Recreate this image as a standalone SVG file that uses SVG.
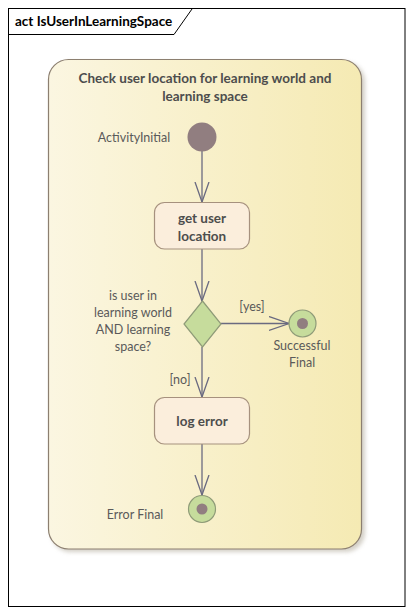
<svg xmlns="http://www.w3.org/2000/svg" width="413" height="615" viewBox="0 0 413 615">
<defs>
<linearGradient id="bg" x1="0" y1="0" x2="1" y2="0">
<stop offset="0" stop-color="#FBF6E1"/>
<stop offset="1" stop-color="#F5EAB3"/>
</linearGradient>
<marker id="arr" markerWidth="22" markerHeight="16" refX="20" refY="8" orient="auto" markerUnits="userSpaceOnUse" viewBox="0 0 22 16">
<path d="M0,1 L20,8 L0,15" fill="none" stroke="#6A6A80" stroke-width="1.3"/>
</marker>
<filter id="sh" x="-10%" y="-10%" width="130%" height="130%">
<feGaussianBlur stdDeviation="2"/>
</filter>
</defs>
<style>
text{font-family:"Lato","Liberation Sans",sans-serif;fill:#5A5A5A}
.lbl{font-size:12.5px}
.bold{font-weight:bold;font-size:13.5px;fill:#4D4D4D}
.act{fill:#FBEEDC;stroke:#A6917E;stroke-width:1.2}
.edge{fill:none;stroke:#6A6A80;stroke-width:1.3}
.fin{fill:#C6DC9C;stroke:#8F9B78;stroke-width:1.2}
.dot{fill:#917E80}
</style>
<rect x="0" y="0" width="413" height="615" fill="#FFFFFF"/>
<g id="frame">
<rect x="8.5" y="8.5" width="396.5" height="598" fill="#FFFFFF" stroke="#000000" stroke-width="1"/>
<path d="M8.5,34.5 L174,34.5 L192,9" fill="none" stroke="#000000" stroke-width="1"/>
<text x="15" y="26" style="font-size:13.5px;fill:#000000;font-weight:bold">act IsUserInLearningSpace</text>
</g>
<g id="container">
<rect x="51" y="62" width="314" height="490" rx="20" fill="#C8C3B8" filter="url(#sh)" opacity="0.8"/>
<rect x="48.5" y="59.5" width="313" height="489.5" rx="20" fill="url(#bg)" stroke="#8C7F70" stroke-width="1.2"/>
<text x="205" y="83" text-anchor="middle" class="bold">Check user location for learning world and</text>
<text x="205" y="101" text-anchor="middle" class="bold">learning space</text>
</g>
<g id="connectors">
<path class="edge" d="M202,151 L202,202" marker-end="url(#arr)"/>
<path class="edge" d="M202,249 L202,301" marker-end="url(#arr)"/>
<path class="edge" d="M221,323.5 L289,323.5" marker-end="url(#arr)"/>
<path class="edge" d="M202,347 L202,397" marker-end="url(#arr)"/>
<path class="edge" d="M202,444 L202,495" marker-end="url(#arr)"/>
<text x="252" y="311" text-anchor="middle" class="lbl">[yes]</text>
<text x="180" y="384" text-anchor="middle" class="lbl">[no]</text>
</g>
<g id="initial">
<circle cx="202" cy="137" r="14.5" class="dot"/>
<text x="134" y="142" text-anchor="middle" class="lbl">ActivityInitial</text>
</g>
<g id="getUserLocation">
<rect x="154.5" y="202.5" width="95" height="46.5" rx="10" class="act"/>
<text x="202" y="223" text-anchor="middle" class="bold">get user</text>
<text x="202" y="241" text-anchor="middle" class="bold">location</text>
</g>
<g id="decision">
<path d="M202.5,301 L221,324 L202.5,347 L184,324 Z" fill="#C6DC9C" stroke="#8F9B78" stroke-width="1.2"/>
<text x="133" y="300" text-anchor="middle" class="lbl">is user in</text>
<text x="133" y="317" text-anchor="middle" class="lbl">learning world</text>
<text x="133" y="334" text-anchor="middle" class="lbl">AND learning</text>
<text x="133" y="351" text-anchor="middle" class="lbl">space?</text>
</g>
<g id="successFinal">
<circle cx="302.5" cy="323.5" r="13.5" class="fin"/>
<circle cx="302.5" cy="323.5" r="5.5" class="dot"/>
<text x="302" y="350" text-anchor="middle" class="lbl">Successful</text>
<text x="302" y="367" text-anchor="middle" class="lbl">Final</text>
</g>
<g id="logError">
<rect x="154.5" y="397.5" width="95" height="46.5" rx="10" class="act"/>
<text x="202" y="426" text-anchor="middle" class="bold">log error</text>
</g>
<g id="errorFinal">
<circle cx="202" cy="509" r="13.5" class="fin"/>
<circle cx="202" cy="509" r="5.5" class="dot"/>
<text x="135" y="519" text-anchor="middle" class="lbl">Error Final</text>
</g>
</svg>
